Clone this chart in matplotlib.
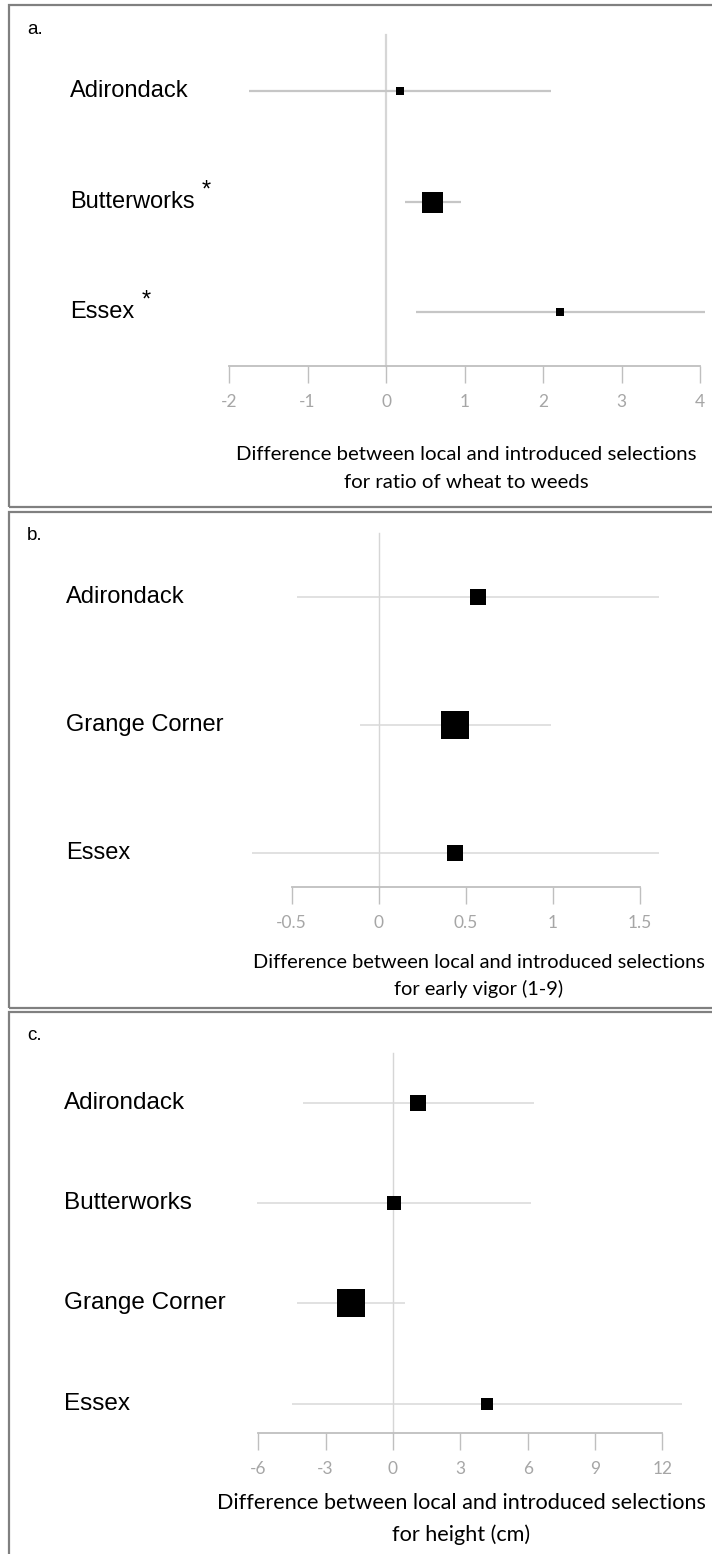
import numpy as np
import matplotlib
matplotlib.use("Agg")
import matplotlib.pyplot as plt
from matplotlib.patches import Rectangle

# ---- data ----
# a. ratio of wheat to weeds
sites_a = ["Adirondack", "Butterworks", "Essex"]
star_a = [False, True, True]
est_a = [0.18, 0.59, 2.22]
lo_a = [-1.75, 0.24, 0.38]
hi_a = [2.10, 0.95, 4.07]
wt_a = [8.5, 21, 8.5]
ticks_a = [-2, -1, 0, 1, 2, 3, 4]
ticklab_a = ["-2", "-1", "0", "1", "2", "3", "4"]

# b. early vigor
sites_b = ["Adirondack", "Grange Corner", "Essex"]
est_b = [0.57, 0.44, 0.44]
lo_b = [-0.47, -0.11, -0.73]
hi_b = [1.61, 0.99, 1.61]
wt_b = [16.5, 27, 16]
ticks_b = [-0.5, 0, 0.5, 1, 1.5]
ticklab_b = ["-0.5", "0", "0.5", "1", "1.5"]

# c. height
sites_c = ["Adirondack", "Butterworks", "Grange Corner", "Essex"]
est_c = [1.1, 0.05, -1.87, 4.2]
lo_c = [-4.0, -6.05, -4.3, -4.5]
hi_c = [6.3, 6.15, 0.53, 12.9]
wt_c = [16, 14.5, 27, 12.5]
ticks_c = [-6, -3, 0, 3, 6, 9, 12]
ticklab_c = ["-6", "-3", "0", "3", "6", "9", "12"]

W, H = 712, 1554
DPI = 100
fig = plt.figure(figsize=(W / DPI, H / DPI), dpi=DPI)

CAL = ["Lato", "DejaVu Sans"]
ARI = ["Liberation Sans", "DejaVu Sans"]


def panel(letter, top, bottom, sites, est, lo, hi, wt, ticks, ticklab,
          x0px, ppu, row0, step, axis_px, zero_top, ci_lw, ci_col, zero_lw,
          lab_x, lab_size, xl1, xl2, xl_x, xl_y1, xl_y2, xl_size):
    ax = fig.add_axes([0, 1 - bottom / H, 1, (bottom - top) / H])
    ax.patch.set_visible(False)
    ax.set_xlim(-x0px / ppu, (W - x0px) / ppu)
    ax.set_ylim((bottom - row0) / step, (top - row0) / step)
    axis_row = (axis_px - row0) / step
    zero_row = (zero_top - row0) / step

    ax.plot([0, 0], [zero_row, axis_row], color="#d6d6d6", lw=zero_lw, zorder=1)
    y = np.arange(len(sites))
    ax.hlines(y, lo, hi, color=ci_col, lw=ci_lw, zorder=2)
    for yi, e, w in zip(y, est, wt):
        ax.plot(e, yi, marker="s", ms=w * 72 / DPI, color="black", mec="black", mew=0, zorder=3)

    for s in ["top", "left", "right"]:
        ax.spines[s].set_visible(False)
    ax.spines["bottom"].set_position(("data", axis_row))
    ax.spines["bottom"].set_bounds(ticks[0], ticks[-1])
    ax.spines["bottom"].set_color("#bfbfbf")
    ax.spines["bottom"].set_linewidth(1.3)
    ax.set_yticks([])
    ax.set_xticks(ticks)
    ax.set_xticklabels(ticklab, family=CAL, fontsize=12.5, color="#a6a6a6")
    ax.tick_params(axis="x", direction="out", length=12, width=1, color="#bfbfbf", pad=8)

    labs = []
    for yi, s in zip(y, sites):
        t = ax.text(lab_x / W, yi, s, transform=ax.get_yaxis_transform(),
                    ha="left", va="center", family=ARI, fontsize=lab_size, color="black")
        labs.append(t)

    fig.text(27 / W, 1 - (top + 24) / H, letter, family=ARI, fontsize=13.5,
             ha="left", va="center")
    fig.text(xl_x / W, 1 - xl_y1 / H, xl1, family=CAL, fontsize=xl_size, ha="center", va="center")
    fig.text(xl_x / W, 1 - xl_y2 / H, xl2, family=CAL, fontsize=xl_size, ha="center", va="center")

    fig.add_artist(Rectangle((9 / W, 1 - bottom / H), 720 / W, (bottom - top) / H,
                             transform=fig.transFigure, fill=False,
                             edgecolor="#808080", lw=1.6))
    return ax, labs


ax_a, labs_a = panel("a.", 5, 507, sites_a, est_a, lo_a, hi_a, wt_a, ticks_a, ticklab_a,
                     386, 78.5, 91, 110.5, 366, 35, 1.6, "#c6c6c6", 1.6,
                     70, 17, "Difference between local and introduced selections",
                     "for ratio of wheat to weeds", 466, 455, 483, 14.7)
ax_b, labs_b = panel("b.", 512, 1008, sites_b, est_b, lo_b, hi_b, wt_b, ticks_b, ticklab_b,
                     378.7, 174.15, 597, 128, 887, 533, 1.1, "#d9d9d9", 1.0,
                     66, 17, "Difference between local and introduced selections",
                     "for early vigor (1-9)", 479, 962, 989, 14.4)
ax_c, labs_c = panel("c.", 1012, 1570, sites_c, est_c, lo_c, hi_c, wt_c, ticks_c, ticklab_c,
                     393, 22.44, 1103, 100.2, 1433, 1053, 1.1, "#d9d9d9", 1.0,
                     64, 17.5, "Difference between local and introduced selections",
                     "for height (cm)", 461, 1503, 1535, 15.6)

# significance stars after the site name in panel a
fig.canvas.draw()
r = fig.canvas.get_renderer()
for t, st in zip(labs_a, star_a):
    if st:
        bb = t.get_window_extent(r)
        fig.text((bb.x1 + 7) / W, (bb.y0 + bb.y1) / 2 / H + 11 / H, "*",
                 family=ARI, fontsize=17, ha="left", va="center")

fig.savefig("out.png", dpi=DPI)
